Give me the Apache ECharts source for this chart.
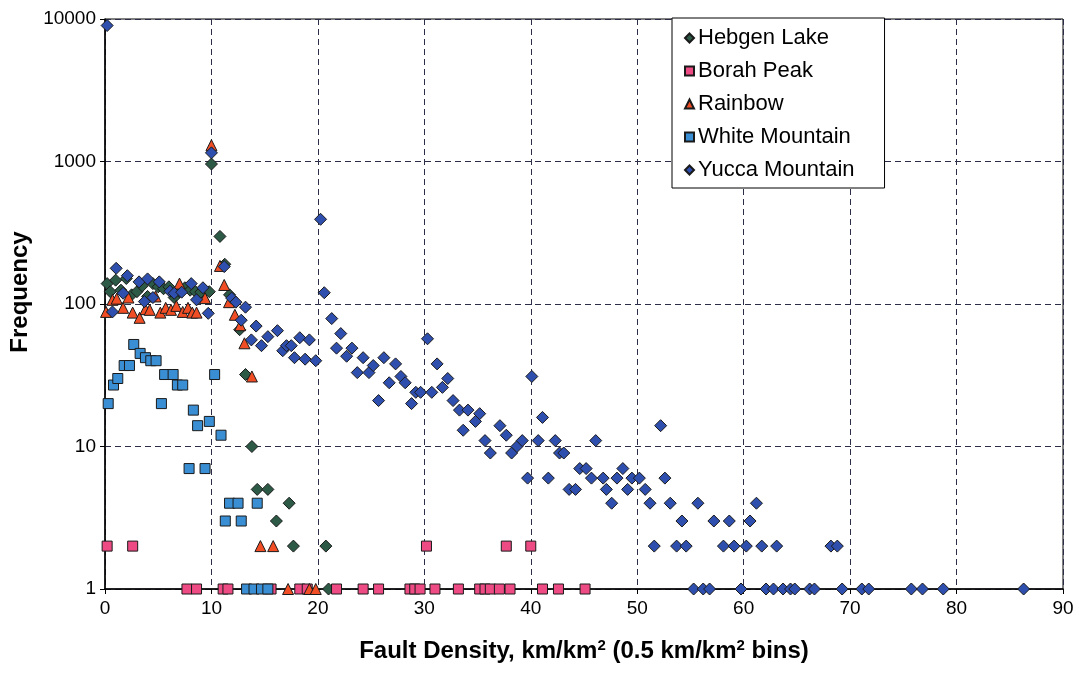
<!DOCTYPE html>
<html><head><meta charset="utf-8">
<script src="https://cdn.jsdelivr.net/npm/echarts@6/dist/echarts.min.js"></script>
<style>html,body{margin:0;padding:0;background:#fff}#c{width:1082px;height:690px}</style>
</head><body><div id="c"></div>
<script>
const seriesNames = ['Hebgen Lake', 'Borah Peak', 'Rainbow', 'White Mountain', 'Yucca Mountain'];
const xTicks = [0, 10, 20, 30, 40, 50, 60, 70, 80, 90];
const yTicks = [1, 10, 100, 1000, 10000];

const hebgenLake = [[0.2,139],[0.5,122],[1.0,147],[1.5,125],[2.0,151],[2.5,116],[3.0,122],[3.5,134],[4.0,113],[4.5,139],[5.0,132],[5.5,128],[6.0,132],[6.5,111],[7.0,122],[7.5,130],[8.0,125],[8.5,122],[9.0,121],[9.8,122],[10.0,960],[10.8,298],[11.25,190],[11.7,116],[12.65,66],[13.2,32],[13.8,10],[14.3,5],[15.3,5],[16.1,3],[17.3,4],[17.7,2],[20.75,2],[21.0,1]];
const borahPeak = [[0.2,2],[2.6,2],[7.7,1],[8.6,1],[11.1,1],[11.55,1],[15.6,1],[18.3,1],[19.0,1],[21.75,1],[24.25,1],[25.7,1],[28.65,1],[29.1,1],[29.6,1],[30.2,2],[31.0,1],[33.2,1],[35.2,1],[35.7,1],[36.2,1],[37.05,1],[37.7,2],[38.05,1],[40.0,2],[41.1,1],[42.6,1],[45.1,1]];
const rainbow = [[0.1,88],[0.7,107],[1.1,109],[1.7,94],[2.2,111],[2.6,87],[3.25,80],[3.8,92],[4.2,91],[4.75,113],[5.2,87],[5.7,94],[6.2,91],[6.7,97],[7.0,139],[7.3,88],[7.8,94],[8.2,87],[8.6,87],[9.4,110],[10.0,1300],[10.8,185],[11.2,136],[11.65,103],[12.2,84],[12.7,71],[13.1,53],[13.8,31],[14.6,2],[15.8,2],[17.2,1],[19.2,1],[19.8,1]];
const whiteMountain = [[0.3,20],[0.8,27],[1.2,30],[1.8,37],[2.3,37],[2.7,52],[3.3,45],[3.8,42],[4.3,40],[4.8,40],[5.3,20],[5.6,32],[6.4,32],[6.8,27],[7.3,27],[7.9,7],[8.3,18],[8.7,14],[9.4,7],[9.8,15],[10.3,32],[10.9,12],[11.3,3],[11.7,4],[12.5,4],[12.8,3],[14.3,4],[13.3,1],[14.0,1],[14.7,1],[15.3,1]];
const yuccaMountain = [[0.2,9000],[0.7,88],[1.05,178],[1.7,119],[2.1,158],[3.2,143],[3.7,104],[4.0,150],[4.5,111],[5.1,143],[6.1,123],[6.5,119],[7.2,121],[8.1,139],[8.6,107],[9.2,130],[9.7,86],[10.0,1150],
[11.2,183],[11.9,110],[12.3,103],[12.8,77],[13.2,95],[13.75,56],[14.2,70],[14.7,51],[15.3,59],[16.2,65],[16.7,47],[17.05,51],[17.5,51],[17.8,42],[18.3,58],[18.8,41],[19.2,56],[19.8,40],
[20.25,393],[20.6,120],[21.3,79],[21.75,49],[22.15,62],[22.7,43],[23.2,49],[23.7,33],[24.25,42],[24.8,33],[25.2,37],[25.7,21],[26.2,42],[26.7,28],[27.3,38],[27.8,31],[28.2,28],[28.8,20],[29.2,24],[29.65,24],
[30.3,57],[30.7,24],[31.2,38],[31.7,26],[32.2,30],[32.7,21],[33.3,18],[33.65,13],[34.1,18],[34.8,15],[35.2,17],[35.7,11],[36.2,9],[37.1,14],[37.7,12],[38.2,9],[38.7,10],[39.2,11],[39.7,6],
[40.1,31],[40.7,11],[41.1,16],[41.65,6],[42.3,11],[42.7,9],[43.1,9],[43.6,5],[44.2,5],[44.6,7],[45.2,7],[45.7,6],[46.1,11],[46.8,6],[47.1,5],[47.6,4],[48.1,6],[48.65,7],[49.1,5],[49.5,6],
[50.2,6],[50.75,5],[51.2,4],[51.6,2],[52.2,14],[52.6,6],[53.1,4],[53.7,2],[54.2,3],[54.6,2],[55.3,1],[55.7,4],[56.2,1],[56.8,1],[57.2,3],[58.1,2],[58.65,3],[59.1,2],[59.75,1],
[60.25,2],[60.6,3],[61.2,4],[61.7,2],[62.1,1],[62.8,1],[63.1,2],[63.7,1],[64.4,1],[64.8,1],[66.2,1],[66.65,1],[68.2,2],[68.8,2],[69.25,1],[71.1,1],[71.75,1],[75.75,1],[76.8,1],[78.75,1],[86.3,1]];

const FONT = '"Liberation Sans", Arial, sans-serif';
const chart = echarts.init(document.getElementById('c'), null, {renderer: 'canvas'});
const border = {borderColor: '#1a1a1a', borderWidth: 1};
function mk(name, data, symbol, size, color) {
  return {name, type: 'scatter', data, symbol, symbolSize: size,
    itemStyle: Object.assign({color, opacity: 1}, border), emphasis: {disabled: true}, animation: false};
}
chart.setOption({
  backgroundColor: '#fff',
  animation: false,
  textStyle: {fontFamily: FONT},
  grid: {left: 105, right: 19, top: 19, bottom: 101, show: true, borderColor: '#000', borderWidth: 1, backgroundColor: 'transparent'},
  legend: {
    orient: 'vertical', left: 672, top: 18,
    backgroundColor: '#fff', borderColor: '#000', borderWidth: 1,
    padding: [9, 30, 7, 12], itemGap: 11, itemWidth: 9, itemHeight: 9, itemSymbolKeepAspect: true,
    textStyle: {fontFamily: FONT, fontSize: 22, color: '#000', lineHeight: 22, padding: [0, 0, 0, -1]},
    data: seriesNames
  },
  xAxis: {
    type: 'value', min: xTicks[0], max: xTicks[xTicks.length - 1], interval: 10,
    name: 'Fault Density, km/km{sup|2} (0.5 km/km{sup|2} bins)', nameLocation: 'middle', nameGap: 49,
    nameTextStyle: {fontFamily: FONT, fontSize: 24, fontWeight: 'bold', color: '#000',
      rich: {sup: {fontFamily: FONT, fontSize: 15, fontWeight: 'bold', color: '#000', verticalAlign: 'top', padding: [0, 0, 12, 0]}}},
    axisLine: {show: true, onZero: false, lineStyle: {color: '#000', width: 1.5}},
    axisTick: {show: true, inside: false, length: 5, lineStyle: {color: '#000'}},
    axisLabel: {fontFamily: FONT, fontSize: 19, color: '#000', margin: 10},
    splitLine: {show: true, lineStyle: {type: [6, 4], color: '#2a2d45', width: 1}}
  },
  yAxis: {
    type: 'log', logBase: 10, min: yTicks[0], max: yTicks[yTicks.length - 1],
    name: 'Frequency', nameLocation: 'middle', nameGap: 70, nameRotate: 90,
    nameTextStyle: {fontFamily: FONT, fontSize: 24, fontWeight: 'bold', color: '#000', padding: [0, 0, 0, 24]},
    axisLine: {show: true, lineStyle: {color: '#000', width: 1.5}},
    axisTick: {show: true, inside: false, length: 5, lineStyle: {color: '#000'}},
    axisLabel: {fontFamily: FONT, fontSize: 19, color: '#000', margin: 9, formatter: v => String(Math.round(v))},
    splitLine: {show: true, lineStyle: {type: [6, 4], color: '#2a2d45', width: 1}},
    minorTick: {show: false}
  },
  series: [
    mk(seriesNames[0], hebgenLake, 'diamond', 12, '#2d5a47'),
    mk(seriesNames[1], borahPeak, 'rect', 10, '#ee4b84'),
    mk(seriesNames[2], rainbow, 'triangle', 11, '#f14e25'),
    mk(seriesNames[3], whiteMountain, 'rect', 10, '#3a8fd4'),
    mk(seriesNames[4], yuccaMountain, 'diamond', 12, '#2f4fae')
  ]
});
</script></body></html>
